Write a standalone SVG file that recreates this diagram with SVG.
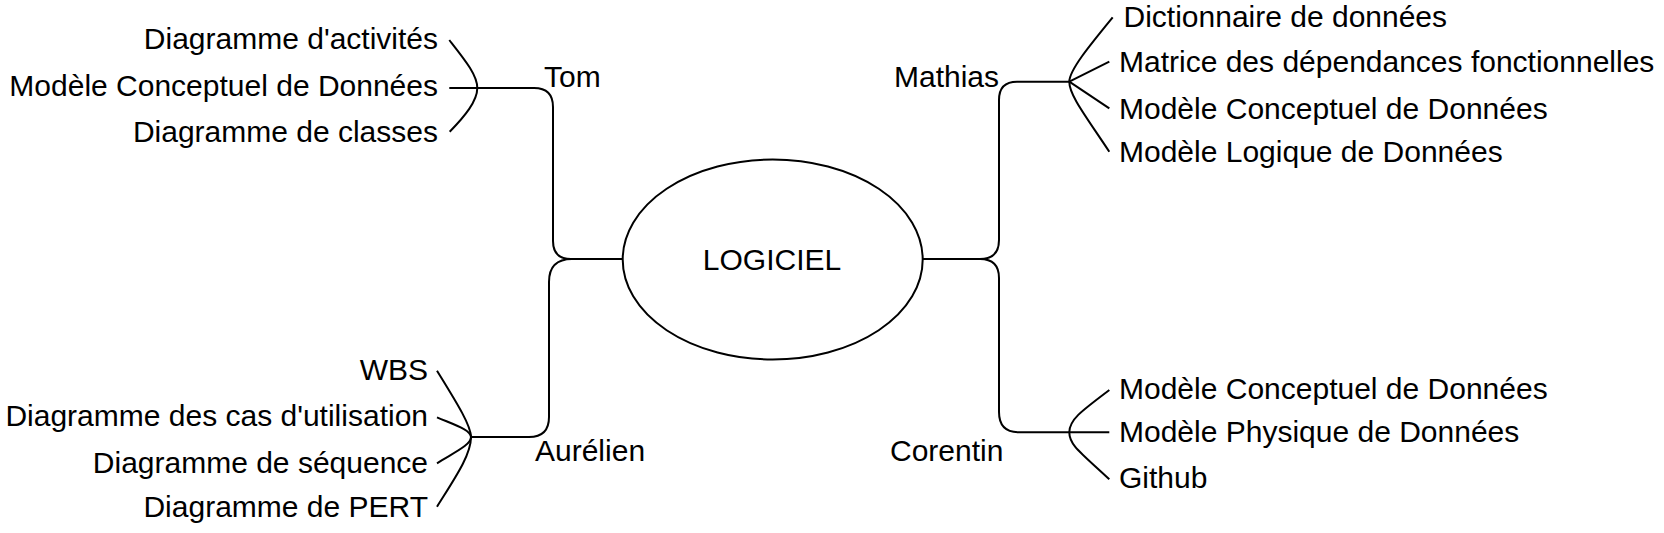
<svg xmlns="http://www.w3.org/2000/svg" width="1664" height="533" viewBox="0 0 1664 533">
<style>
.t{font-family:"Liberation Sans",Arial,sans-serif;font-size:30px;fill:#000}
.e{text-anchor:end}
.m{text-anchor:middle}
.c{fill:none;stroke:#000;stroke-width:2;stroke-linecap:butt;stroke-linejoin:round}
.n{fill:#fff;stroke:#000;stroke-width:2}
</style>
<rect width="1664" height="533" fill="#fff"/>
<g id="connectors">
<path class="c" d="M622.7,259 L571,259 Q553,259 553,241 L553,107 Q553,88 534,88 L449.3,88"/>
<path class="c" d="M622.7,259 L572,259 Q549,259 549,282 L549,417 Q549,437 529,437 L471,437"/>
<path class="c" d="M922.7,259 L980,259 Q999,259 999,240 L999,100 Q999,81.7 1017,81.7 L1069.3,81.7"/>
<path class="c" d="M922.7,259 L980,259 Q999,259 999,278 L999,412 Q999,432.3 1019,432.3 L1109.3,432.3"/>
<path class="c" d="M449.3,40 C465,60 477.3,75 477.3,88 C477.3,101 465,116 449.7,131.7"/>
<path class="c" d="M437,370.7 C455,400 471,425 471,437"/>
<path class="c" d="M437,417.3 C455,425 471,430 471,437"/>
<path class="c" d="M437,463.3 C455,452 471,445 471,437"/>
<path class="c" d="M437,506.7 C455,478 471,455 471,437"/>
<path class="c" d="M1069.3,81.7 C1069.3,70 1090,45 1112.7,17.3"/>
<path class="c" d="M1069.3,81.7 L1109.3,61.7"/>
<path class="c" d="M1069.3,81.7 L1109.3,108.3"/>
<path class="c" d="M1069.3,81.7 C1069.3,95 1085,115 1109.3,151.7"/>
<path class="c" d="M1069.3,432.3 C1069.3,420 1080,412 1109.3,390"/>
<path class="c" d="M1069.3,432.3 C1069.3,445 1080,452 1109.3,479.3"/>
</g>
<g id="logiciel">
<ellipse class="n" cx="772.7" cy="259.5" rx="150" ry="100"/>
<text class="t m" x="772" y="269.5">LOGICIEL</text>
</g>
<g id="tom"><text class="t" x="544" y="87">Tom</text></g>
<g id="tom-1"><text class="t e" x="438" y="49">Diagramme d'activités</text></g>
<g id="tom-2"><text class="t e" x="438" y="96">Modèle Conceptuel de Données</text></g>
<g id="tom-3"><text class="t e" x="438" y="142">Diagramme de classes</text></g>
<g id="aurelien"><text class="t" x="535" y="461">Aurélien</text></g>
<g id="aurelien-1"><text class="t e" x="428" y="380">WBS</text></g>
<g id="aurelien-2"><text class="t e" x="428" y="426">Diagramme des cas d'utilisation</text></g>
<g id="aurelien-3"><text class="t e" x="428" y="473">Diagramme de séquence</text></g>
<g id="aurelien-4"><text class="t e" x="428" y="516.7">Diagramme de PERT</text></g>
<g id="mathias"><text class="t" x="894" y="87">Mathias</text></g>
<g id="mathias-1"><text class="t" x="1123.5" y="26.5">Dictionnaire de données</text></g>
<g id="mathias-2"><text class="t" x="1119" y="72">Matrice des dépendances fonctionnelles</text></g>
<g id="mathias-3"><text class="t" x="1119" y="118.5">Modèle Conceptuel de Données</text></g>
<g id="mathias-4"><text class="t" x="1119" y="161.5">Modèle Logique de Données</text></g>
<g id="corentin"><text class="t" x="890" y="461">Corentin</text></g>
<g id="corentin-1"><text class="t" x="1119" y="399">Modèle Conceptuel de Données</text></g>
<g id="corentin-2"><text class="t" x="1119" y="441.5">Modèle Physique de Données</text></g>
<g id="corentin-3"><text class="t" x="1119" y="488">Github</text></g>
</svg>
